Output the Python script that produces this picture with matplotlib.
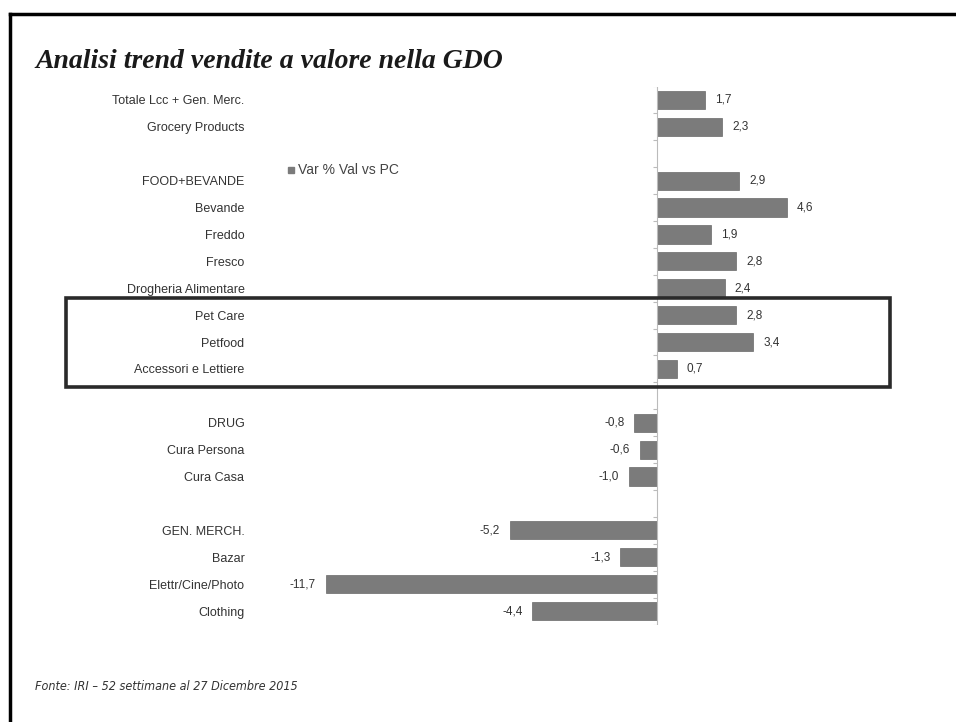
import matplotlib
matplotlib.use("Agg")
import matplotlib.pyplot as plt
from matplotlib.patches import Rectangle
from matplotlib.lines import Line2D
import numpy as np

# rows in display order; None = empty spacer row
categories = [
    "Totale Lcc + Gen. Merc.", "Grocery Products", "",
    "FOOD+BEVANDE", "Bevande", "Freddo", "Fresco", "Drogheria Alimentare",
    "Pet Care", "Petfood", "Accessori e Lettiere", "",
    "DRUG", "Cura Persona", "Cura Casa", "",
    "GEN. MERCH.", "Bazar", "Elettr/Cine/Photo", "Clothing",
]
values = [
    1.7, 2.3, None,
    2.9, 4.6, 1.9, 2.8, 2.4,
    2.8, 3.4, 0.7, None,
    -0.8, -0.6, -1.0, None,
    -5.2, -1.3, -11.7, -4.4,
]
legend_label = "Var % Val vs PC"
title = "Analisi trend vendite a valore nella GDO"
source = "Fonte: IRI \u2013 52 settimane al 27 Dicembre 2015"

W, H = 956, 722
fig = plt.figure(figsize=(W / 100, H / 100), dpi=100)
plt.rcParams['font.family'] = ['Liberation Sans', 'DejaVu Sans']

def fx(px):
    return px / W

def fy(py):
    return 1 - py / H

ax_left, ax_right = 250, 900
ax_top, ax_bot = 86.5, 624.5
ax = fig.add_axes([fx(ax_left), fy(ax_bot), fx(ax_right - ax_left), (ax_bot - ax_top) / H])

n = len(categories)
ypos = np.arange(n)
bar_color = "#7b7b7b"
for y, v in zip(ypos, values):
    if v is None:
        continue
    ax.barh(y, v, height=0.68, color=bar_color, edgecolor="#6a6a6a", linewidth=0.5)
    lab = f"{v:.1f}".replace(".", ",")
    if v >= 0:
        ax.text(v + 0.35, y, lab, ha="left", va="center", fontsize=8.5, color="#333333")
    else:
        ax.text(v - 0.35, y, lab, ha="right", va="center", fontsize=8.5, color="#333333")

scale = 28.3  # px per unit
zero_px = 657
ax.set_xlim(-(zero_px - ax_left) / scale, (ax_right - zero_px) / scale)
ax.set_ylim(n - 0.5, -0.5)

ax.set_yticks(ypos)
ax.set_yticklabels(categories, fontsize=9, color="#333333")
ax.tick_params(axis="y", length=0, pad=4)
ax.set_xticks([])
for s in ax.spines.values():
    s.set_visible(False)

# zero axis with small ticks between rows
ax.axvline(0, color="#bbbbbb", lw=0.8)
bounds = np.arange(-0.5, n, 1.0)
ax.hlines(bounds, -0.15, 0, color="#bbbbbb", lw=0.8)

# legend marker + text
fig.add_artist(Line2D([fx(291)], [fy(170)], marker="s", markersize=4.5,
                      color=bar_color, linestyle="none"))
fig.text(fx(298), fy(170), legend_label, fontsize=10, color="#444444",
         ha="left", va="center")

# highlight box around Pet Care rows
fig.add_artist(Rectangle((fx(66), fy(387)), fx(890 - 66), (387 - 298) / H,
                         transform=fig.transFigure, fill=False,
                         edgecolor="#2a2a2a", lw=2.6))

# title and source
fig.text(fx(35), fy(62), title, fontsize=20, fontweight="bold", fontstyle="italic",
         family=["Liberation Serif", "DejaVu Serif"], color="#1a1a1a",
         ha="left", va="center")
fig.text(fx(35), fy(686), source, fontsize=9, fontstyle="italic",
         fontstretch="condensed",
         family=["DejaVu Sans"], color="#333333",
         ha="left", va="center")

# outer frame: left and top edges
fig.add_artist(Line2D([fx(10), fx(10)], [fy(H + 5), fy(14)], color="black", lw=2.5))
fig.add_artist(Line2D([fx(10), fx(W + 5)], [fy(14), fy(14)], color="black", lw=2.5))

fig.savefig("out.png", dpi=100, facecolor="white")
